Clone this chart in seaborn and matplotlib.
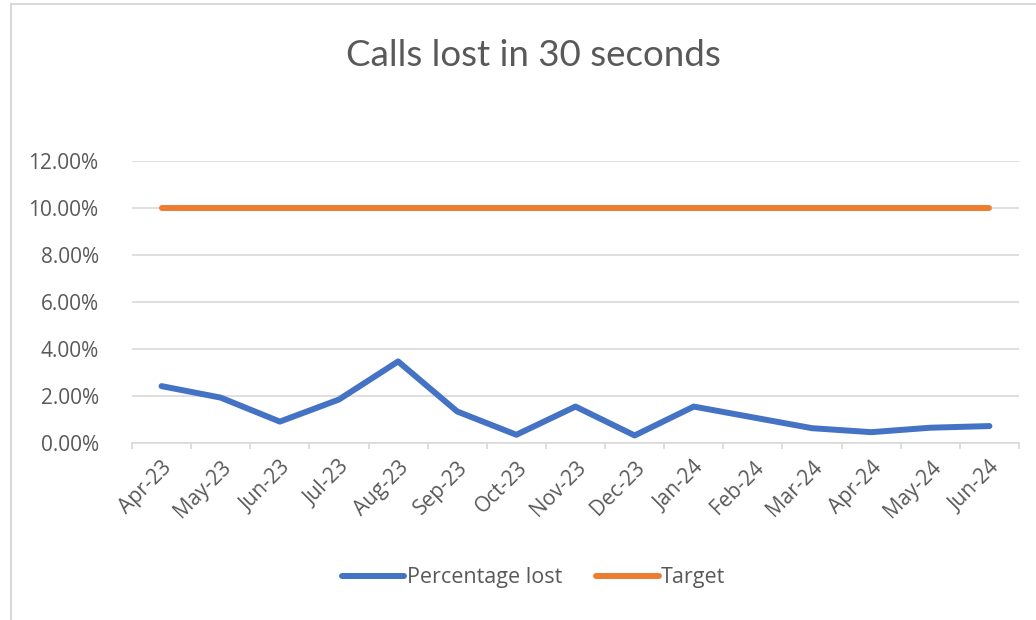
import matplotlib
matplotlib.use("Agg")
import matplotlib.pyplot as plt
from matplotlib.lines import Line2D
from matplotlib.ticker import PercentFormatter, FixedLocator
import numpy as np
import pandas as pd
import seaborn as sns

months = ["Apr-23", "May-23", "Jun-23", "Jul-23", "Aug-23", "Sep-23", "Oct-23", "Nov-23",
          "Dec-23", "Jan-24", "Feb-24", "Mar-24", "Apr-24", "May-24", "Jun-24"]
pct_lost = [2.42, 1.93, 0.91, 1.85, 3.47, 1.34, 0.35, 1.55, 0.32, 1.55, 1.09, 0.63, 0.46, 0.65, 0.72]
target = [10.0] * len(months)
series_names = ["Percentage lost", "Target"]
colours = ["#4472C4", "#ED7D31"]

df = pd.concat([
    pd.DataFrame({"month": months, "value": pct_lost, "series": series_names[0]}),
    pd.DataFrame({"month": months, "value": target, "series": series_names[1]}),
])

sns.set_theme(style="white")
plt.rcParams["font.family"] = ["Open Sans", "DejaVu Sans"]
text_col = "#595959"
grid_col = "#D9D9D9"

fig = plt.figure(figsize=(10.36, 6.2), dpi=100)
ax = fig.add_axes([0.1274, 0.2855, 0.9836 - 0.1274, 0.4548])

sns.lineplot(data=df, x="month", y="value", hue="series", hue_order=series_names,
             palette=colours, linewidth=4.3, ax=ax, sort=False,
             solid_capstyle="round", solid_joinstyle="round")

ax.set_xlim(-0.5, len(months) - 0.5)
ax.set_ylim(0, 12)
ax.set_yticks(np.arange(0, 13, 2))
ax.yaxis.set_major_formatter(PercentFormatter(xmax=100, decimals=2))
ax.set_xlabel("")
ax.set_ylabel("")

ax.grid(axis="y", color=grid_col, linewidth=1.2)
ax.set_axisbelow(True)
for s in ["top", "right", "left"]:
    ax.spines[s].set_visible(False)
ax.spines["bottom"].set_color(grid_col)
ax.spines["bottom"].set_linewidth(1.2)

# category ticks sit between the labels, like Excel
ax.xaxis.set_minor_locator(FixedLocator(np.arange(-0.5, len(months), 1)))
ax.tick_params(axis="x", which="minor", bottom=True, length=4, width=1.2, color=grid_col)
ax.tick_params(axis="x", which="major", length=0, pad=10, labelsize=15, labelcolor=text_col)
ax.tick_params(axis="y", length=0, pad=24, labelsize=15, labelcolor=text_col)
for lab in ax.get_xticklabels():
    lab.set_rotation(45)
    lab.set_ha("right")
    lab.set_rotation_mode("anchor")

sns.move_legend(ax, "center", bbox_to_anchor=(0.515, 0.068), bbox_transform=fig.transFigure,
                ncol=2, frameon=False, title=None, fontsize=15.5, handlelength=2.9,
                handletextpad=0.1, columnspacing=1.6)
for t in ax.get_legend().get_texts():
    t.set_color(text_col)

fig.text(0.515, 0.91, "Calls lost in 30 seconds", ha="center", va="center",
         fontsize=26.5, color=text_col, family=["Lato", "DejaVu Sans"])

# chart frame edges visible in the screenshot
fig.add_artist(Line2D([11 / 1036, 11 / 1036], [0, 1 - 4 / 620], transform=fig.transFigure,
                      color=grid_col, linewidth=1.5))
fig.add_artist(Line2D([11 / 1036, 1], [1 - 4 / 620, 1 - 4 / 620], transform=fig.transFigure,
                      color=grid_col, linewidth=1.5))

fig.savefig("out.png", dpi=100)
